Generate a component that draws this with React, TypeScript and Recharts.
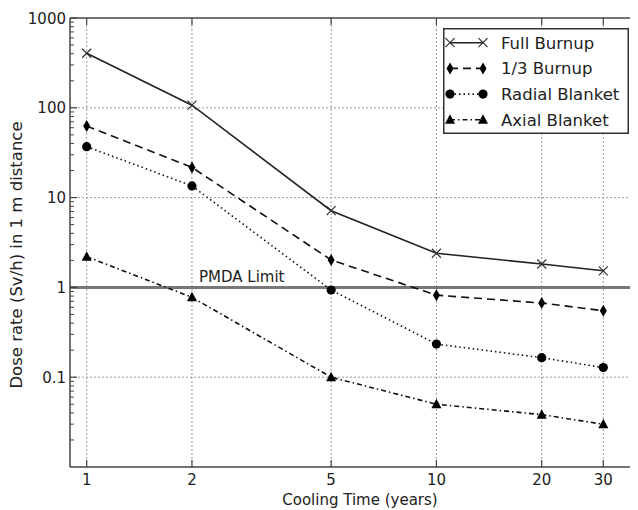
import React from 'react';
import { LineChart, Line, XAxis, YAxis, ReferenceLine, Legend } from 'recharts';

// cooling time (years) and dose rates (Sv/h)
const years = [1, 2, 5, 10, 20, 30];
const fullBurnup = [405, 107, 7.15, 2.4, 1.82, 1.53];
const thirdBurnup = [62.7, 21.7, 2.02, 0.82, 0.67, 0.55];
const radialBlanket = [36.9, 13.5, 0.935, 0.234, 0.165, 0.128];
const axialBlanket = [2.2, 0.776, 0.1, 0.05, 0.0383, 0.0299];

const xTicks = [1, 2, 5, 10, 20, 30];
const yTicks = [0.1, 1, 10, 100, 1000];
const yTickLabels = ['0.1', '1', '10', '100', '1000'];
const pmdaLimit = 1;

const FONT = '"DejaVu Sans", sans-serif';
const SPINE = '#444';

const data = years.map((t, i) => ({
  t,
  full: fullBurnup[i],
  third: thirdBurnup[i],
  radial: radialBlanket[i],
  axial: axialBlanket[i],
}));

// minor ticks for the log y axis (2..9 of each decade)
const minorTicks: number[] = [];
[0.01, 0.1, 1, 10, 100].forEach((d) => {
  for (let m = 2; m <= 9; m++) minorTicks.push(+(d * m).toPrecision(3));
});

type MarkerType = 'x' | 'diamond' | 'circle' | 'triangle';

const series: { key: string; name: string; dash?: string; marker: MarkerType; color: string }[] = [
  { key: 'full', name: 'Full Burnup', marker: 'x', color: '#222' },
  { key: 'third', name: '1/3 Burnup', dash: '8 5', marker: 'diamond', color: '#111' },
  { key: 'radial', name: 'Radial Blanket', dash: '1.5 3', marker: 'circle', color: '#111' },
  { key: 'axial', name: 'Axial Blanket', dash: '5 3 1.5 3', marker: 'triangle', color: '#111' },
];

function Marker({ type, cx, cy }: { type: MarkerType; cx: number; cy: number }) {
  if (type === 'x') {
    const s = 4.5;
    return (
      <g stroke="#333" strokeWidth={1.2}>
        <line x1={cx - s} y1={cy - s} x2={cx + s} y2={cy + s} />
        <line x1={cx - s} y1={cy + s} x2={cx + s} y2={cy - s} />
      </g>
    );
  }
  if (type === 'diamond') {
    return <polygon points={`${cx},${cy - 6} ${cx + 3.5},${cy} ${cx},${cy + 6} ${cx - 3.5},${cy}`} fill="#000" />;
  }
  if (type === 'circle') {
    return <circle cx={cx} cy={cy} r={4.6} fill="#000" />;
  }
  return <polygon points={`${cx},${cy - 5.5} ${cx + 5},${cy + 4} ${cx - 5},${cy + 4}`} fill="#000" />;
}

const XTick = (props: any) => {
  const { x, y, payload } = props;
  return (
    <g>
      <line x1={x} y1={y} x2={x} y2={y - 7} stroke={SPINE} strokeWidth={1.2} />
      <text x={x} y={y + 18} textAnchor="middle" fontSize={15} fill="#222" fontFamily={FONT}>
        {payload.value}
      </text>
    </g>
  );
};

const TopTick = (props: any) => {
  const { x, y } = props;
  return <line x1={x} y1={y} x2={x} y2={y + 7} stroke={SPINE} strokeWidth={1.2} />;
};

const YTick = (props: any) => {
  const { x, y, payload } = props;
  const idx = yTicks.indexOf(payload.value);
  if (idx < 0) {
    return <line x1={x} y1={y} x2={x + 4} y2={y} stroke={SPINE} strokeWidth={1} />;
  }
  return (
    <g>
      <line x1={x} y1={y} x2={x + 7} y2={y} stroke={SPINE} strokeWidth={1.2} />
      <text x={x - 4} y={y + 5.5} textAnchor="end" fontSize={15} fill="#222" fontFamily={FONT}>
        {yTickLabels[idx]}
      </text>
    </g>
  );
};

const renderLegend = () => (
  <svg width={186} height={106} style={{ display: 'block' }}>
    <rect x={0.75} y={0.75} width={184.5} height={104.5} fill="#fff" stroke="#333" strokeWidth={1.5} />
    {series.map((s, i) => {
      const cy = 14.7 + i * 25.7;
      return (
        <g key={s.key}>
          <line x1={7} y1={cy} x2={40} y2={cy} stroke={s.color} strokeWidth={1.6} strokeDasharray={s.dash} />
          <Marker type={s.marker} cx={7} cy={cy} />
          <Marker type={s.marker} cx={40} cy={cy} />
          <text x={58} y={cy + 6} fontSize={16.5} fill="#222" fontFamily={FONT}>
            {s.name}
          </text>
        </g>
      );
    })}
  </svg>
);

export default function App() {
  return (
    <div style={{ width: 630, height: 502, fontFamily: FONT }}>
      <LineChart width={630} height={502} data={data} margin={{ top: 9, right: 0, bottom: 0, left: 0 }}>
        {xTicks.map((v) => (
          <ReferenceLine key={`gx${v}`} x={v} stroke="#999" strokeDasharray="2 2" strokeWidth={1} />
        ))}
        {yTicks.slice(0, -1).map((v) => (
          <ReferenceLine key={`gy${v}`} y={v} stroke="#999" strokeDasharray="2 2" strokeWidth={1} />
        ))}
        <ReferenceLine
          y={pmdaLimit}
          stroke="#777"
          strokeWidth={3}
          label={(p: any) => (
            <text x={p.viewBox.x + 129} y={p.viewBox.y - 5} fontSize={15} fill="#222" fontFamily={FONT}>
              PMDA Limit
            </text>
          )}
        />
        <ReferenceLine y={1000} stroke={SPINE} strokeWidth={1.5} ifOverflow="visible" />
        <XAxis
          dataKey="t"
          type="number"
          scale="log"
          domain={[0.896, 37.7]}
          allowDataOverflow
          ticks={xTicks}
          interval={0}
          tick={<XTick />}
          tickLine={false}
          tickSize={0}
          tickMargin={0}
          height={43}
          axisLine={{ stroke: SPINE, strokeWidth: 1.5 }}
          label={() => (
            <text x={352} y={497} textAnchor="middle" fontSize={15} fill="#222" fontFamily={FONT}>
              Cooling Time (years)
            </text>
          )}
        />
        <XAxis
          xAxisId="top"
          orientation="top"
          dataKey="t"
          type="number"
          scale="log"
          domain={[0.896, 37.7]}
          allowDataOverflow
          ticks={xTicks}
          interval={0}
          tick={<TopTick />}
          tickLine={false}
          tickSize={0}
          tickMargin={0}
          height={1}
          axisLine={false}
        />
        <YAxis
          type="number"
          scale="log"
          domain={[0.01, 1000]}
          allowDataOverflow
          ticks={[...yTicks, ...minorTicks]}
          interval={0}
          tick={<YTick />}
          tickLine={false}
          tickSize={0}
          tickMargin={0}
          width={62}
          axisLine={{ stroke: SPINE, strokeWidth: 1.5 }}
          label={() => (
            <text
              x={14}
              y={247}
              transform="rotate(-90, 14, 247)"
              textAnchor="middle"
              fontSize={16.5}
              fill="#222"
              fontFamily={FONT}
            >
              Dose rate (Sv/h) in 1 m distance
            </text>
          )}
        />
        {series.map((s) => (
          <Line
            key={s.key}
            dataKey={s.key}
            name={s.name}
            stroke={s.color}
            strokeWidth={1.6}
            strokeDasharray={s.dash}
            isAnimationActive={false}
            activeDot={false}
            dot={(p: any) => <Marker key={`${s.key}-${p.index}`} type={s.marker} cx={p.cx} cy={p.cy} />}
          />
        ))}
        <Legend
          layout="vertical"
          align="center"
          verticalAlign="middle"
          content={renderLegend}
          wrapperStyle={{ left: 435, top: 20, width: 186, height: 106 }}
        />
      </LineChart>
    </div>
  );
}
